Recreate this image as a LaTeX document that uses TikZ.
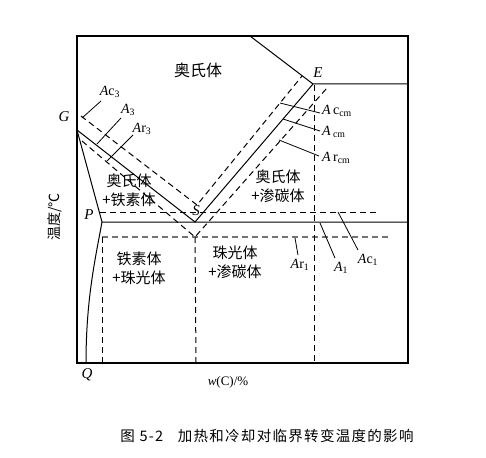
\documentclass[tikz,border=0pt]{standalone}
\usepackage{fontspec}
\setmainfont{Liberation Serif}
\newfontfamily\cjk{Noto Sans CJK SC}
\newfontfamily\cjkcap[LetterSpace=9]{Noto Sans CJK SC}
\begin{document}
\begin{tikzpicture}[x=1pt,y=-1pt,
  bd/.style={line width=1.2pt},
  ln/.style={line width=1pt},
  dsh/.style={line width=1pt, dash pattern=on 6pt off 4pt},
  gdsh/.style={line width=1.3pt, black!55, dash pattern=on 6pt off 4pt},
  ptr/.style={line width=0.8pt},
  lat/.style={font=\fontsize{14}{14}\selectfont, inner sep=0pt},
  pt/.style={font=\fontsize{15}{15}\selectfont\itshape, inner sep=0pt},
  reg/.style={font=\cjk\fontsize{15}{19}\selectfont, align=center, inner sep=0pt},
]
\useasboundingbox (0,0) rectangle (486,457);
% key points
\coordinate (G) at (77,130);
\coordinate (S) at (195,222);
\coordinate (E) at (313,84);
\coordinate (P) at (102,222);
\coordinate (Q) at (86,363);
\coordinate (T) at (250,36);
\coordinate (ER) at (408,84);
\coordinate (PR) at (408,222);
\coordinate (FL) at (77,36);
\coordinate (FR) at (408,363);
% dashed line end points
\coordinate (ac3a) at (81,116);
\coordinate (upV) at (197,205);
\coordinate (accma) at (302,76);
\coordinate (ar3a) at (82,141);
\coordinate (loV) at (195,237);
\coordinate (arcma) at (327,88);
\coordinate (ac1a) at (100,212);
\coordinate (ac1b) at (377,212);
\coordinate (ar1a) at (102,237);
\coordinate (ar1b) at (388,237);
\coordinate (v1b) at (102,363);
\coordinate (v2b) at (196,363);
\coordinate (v3a) at (314,85);
\coordinate (v3b) at (314,363);
% frame
\draw[bd] (FL) rectangle (FR);
% solid phase lines
\draw[ln] (T) -- (E) -- (ER);
\draw[ln] (G) -- (S) -- (E);
\draw[ln] (G) -- (P) -- (PR);
\draw[ln] (P) .. controls (95,260) and (86,300) .. (Q);
% dashed lines
\draw[dsh] (ac3a) -- (upV) -- (accma);
\draw[dsh] (ar3a) -- (loV) -- (arcma);
\draw[dsh] (ac1a) -- (ac1b);
\draw[gdsh] (ar1a) -- (ar1b);
\draw[dsh] (ar1a) -- (v1b);
\draw[dsh] (loV) -- (v2b);
\draw[dsh] (v3a) -- (v3b);
% pointer lines
\draw[ptr] (101,101) -- (82,118);
\draw[ptr] (121,118) -- (97,144);
\draw[ptr] (133,135) -- (107,161);
\draw[ptr] (280,103) -- (320,113);
\draw[ptr] (283,119) -- (320,131);
\draw[ptr] (279,140) -- (319,156);
\draw[ptr] (295,238) -- (298,255);
\draw[ptr] (320,223) -- (335,258);
\draw[ptr] (338,212) -- (358,250);
% point labels
\node[pt] (lG) at (64,117) {G};
\node[pt] (lE) at (318,73) {E};
\node[pt] (lP) at (89,215) {P};
\node[pt] (lS) at (196,211) {S};
\node[pt] (lQ) at (87,375) {Q};
% line labels
\node[lat] (lac3) at (110,92) {\textit{A}c\textsubscript{3}};
\node[lat] (la3) at (128,110) {\textit{A}\textsubscript{3}};
\node[lat] (lar3) at (142,129) {\textit{A}r\textsubscript{3}};
\node[lat, anchor=west] (laccm) at (322,111) {\textit{A}\,c\textsubscript{cm}};
\node[lat, anchor=west] (lacm) at (322,132) {\textit{A}\,\textsubscript{cm}};
\node[lat, anchor=west] (larcm) at (322,158) {\textit{A}\,r\textsubscript{cm}};
\node[lat] (lar1) at (300,265) {\textit{A}r\textsubscript{1}};
\node[lat] (la1) at (341,268) {\textit{A}\textsubscript{1}};
\node[lat] (lac1) at (368,260) {\textit{A}c\textsubscript{1}};
% region labels
\node[reg, font=\cjk\fontsize{16}{19}\selectfont] (r1) at (198,70) {奥氏体};
\node[reg] (r2) at (129,190) {奥氏体\\+铁素体};
\node[reg] (r3) at (278,186) {奥氏体\\+渗碳体};
\node[reg] (r4) at (139,268) {铁素体\\+珠光体};
\node[reg] (r5) at (235,262) {珠光体\\+渗碳体};
% axes labels
\node[font=\cjk\fontsize{14}{14}\selectfont, rotate=90, inner sep=0pt] (ylab) at (55,217) {温度/℃};
\node[font=\fontsize{13}{13}\selectfont, inner sep=0pt] (xlab) at (228,382) {\textit{w}(C)/\%};
% caption
\node[font=\cjkcap\fontsize{14.5}{15}\selectfont, inner sep=0pt] (cap) at (267,436) {图 5-2\quad 加热和冷却对临界转变温度的影响};
\end{tikzpicture}
\end{document}
